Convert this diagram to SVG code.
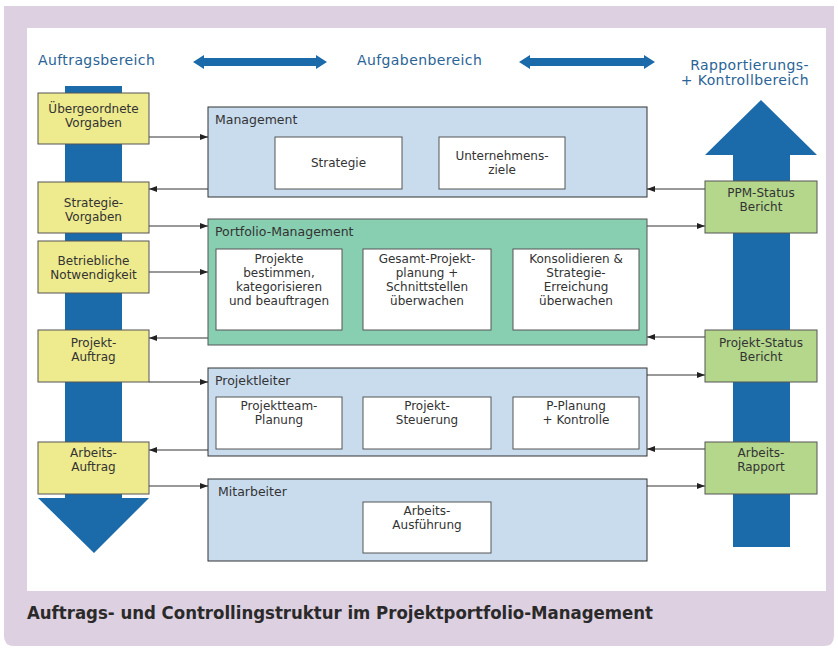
<svg xmlns="http://www.w3.org/2000/svg" width="838" height="648" viewBox="0 0 838 648">
<style>
.hdr{font-family:"DejaVu Sans",Verdana,sans-serif;font-size:14px;fill:#2a6496;letter-spacing:0.4px}
.t{font-family:"DejaVu Sans",Verdana,sans-serif;font-size:12px;fill:#333;text-anchor:middle}
.ttl{font-family:"DejaVu Sans",Verdana,sans-serif;font-size:12.5px;fill:#333}
.y{fill:#eeea8e;stroke:#555;stroke-width:1}
.g{fill:#b4d78c;stroke:#555;stroke-width:1}
.w{fill:#fff;stroke:#555;stroke-width:1}
.mb{fill:#c9dcee;stroke:#333;stroke-width:1}
.mp{fill:#88cfb2;stroke:#555;stroke-width:1}
.big{fill:#1b6aaa}
.c{stroke:#333;stroke-width:1;fill:none;marker-end:url(#ah)}
</style>
<defs>
<marker id="ah" viewBox="0 0 8 8" refX="8" refY="4" markerWidth="8" markerHeight="8" markerUnits="userSpaceOnUse" orient="auto">
<path d="M0,1 L8,4 L0,7 Z" fill="#222"/>
</marker>
</defs>
<path d="M4,6 H834 V636 Q834,646 824,646 H14 Q4,646 4,636 Z" fill="#ddd0e0"/>
<rect x="27" y="28" width="799" height="563" fill="#fff"/>
<text x="27" y="619" font-family="'DejaVu Sans Condensed','DejaVu Sans',sans-serif" font-weight="bold" font-size="17" fill="#2a2a2a" textLength="626" lengthAdjust="spacingAndGlyphs">Auftrags- und Controllingstruktur im Projektportfolio-Management</text>

<g id="headers">
<text class="hdr" x="38" y="65">Auftragsbereich</text>
<text class="hdr" x="357" y="65">Aufgabenbereich</text>
<text class="hdr" x="809" y="70" text-anchor="end">Rapportierungs-</text>
<text class="hdr" x="809" y="85" text-anchor="end">+ Kontrollbereich</text>
<path class="big" d="M193,62 L204,55 L204,58 L316,58 L316,55 L327,62 L316,69 L316,66 L204,66 L204,69 Z"/>
<path class="big" d="M519,62 L530,55 L530,58 L644,58 L644,55 L655,62 L644,69 L644,66 L530,66 L530,69 Z"/>
</g>

<g id="arrow-down"><path class="big" d="M65,86 H122 V498 H149 L94,553 L38,498 H65 Z"/></g>
<g id="arrow-up"><path class="big" d="M761,100 L817,155 H790 V547 H733 V155 H705 Z"/></g>

<g id="connectors">
<line class="c" x1="149" y1="137" x2="208" y2="137"/>
<line class="c" x1="208" y1="189" x2="149" y2="189"/>
<line class="c" x1="149" y1="226" x2="208" y2="226"/>
<line class="c" x1="149" y1="272" x2="208" y2="272"/>
<line class="c" x1="208" y1="338" x2="149" y2="338"/>
<line class="c" x1="149" y1="382" x2="208" y2="382"/>
<line class="c" x1="208" y1="450" x2="149" y2="450"/>
<line class="c" x1="149" y1="486" x2="208" y2="486"/>
<line class="c" x1="705" y1="189" x2="647" y2="189"/>
<line class="c" x1="647" y1="226" x2="705" y2="226"/>
<line class="c" x1="705" y1="337" x2="647" y2="337"/>
<line class="c" x1="647" y1="375" x2="705" y2="375"/>
<line class="c" x1="705" y1="449" x2="647" y2="449"/>
<line class="c" x1="647" y1="486" x2="705" y2="486"/>
</g>

<g id="uebergeordnete"><rect class="y" x="38" y="93" width="111" height="51"/><text class="t" x="93.5" y="113">Übergeordnete</text><text class="t" x="93.5" y="127">Vorgaben</text></g>
<g id="strategie-vorgaben"><rect class="y" x="38" y="182" width="111" height="51"/><text class="t" x="93.5" y="207">Strategie-</text><text class="t" x="93.5" y="221">Vorgaben</text></g>
<g id="betriebliche"><rect class="y" x="38" y="241" width="111" height="52"/><text class="t" x="93.5" y="265">Betriebliche</text><text class="t" x="93.5" y="279">Notwendigkeit</text></g>
<g id="projekt-auftrag"><rect class="y" x="38" y="330" width="111" height="52"/><text class="t" x="93.5" y="347">Projekt-</text><text class="t" x="93.5" y="361">Auftrag</text></g>
<g id="arbeits-auftrag"><rect class="y" x="38" y="442" width="111" height="52"/><text class="t" x="93.5" y="457">Arbeits-</text><text class="t" x="93.5" y="471">Auftrag</text></g>

<g id="ppm-status"><rect class="g" x="705" y="181" width="112" height="52"/><text class="t" x="761" y="197">PPM-Status</text><text class="t" x="761" y="211">Bericht</text></g>
<g id="projekt-status"><rect class="g" x="705" y="330" width="112" height="52"/><text class="t" x="761" y="347">Projekt-Status</text><text class="t" x="761" y="361">Bericht</text></g>
<g id="arbeits-rapport"><rect class="g" x="705" y="442" width="112" height="52"/><text class="t" x="761" y="457">Arbeits-</text><text class="t" x="761" y="471">Rapport</text></g>

<g id="management">
<rect class="mb" x="208" y="107" width="439" height="90"/>
<text class="ttl" x="215" y="124">Management</text>
<rect class="w" x="275" y="137" width="127" height="52"/><text class="t" x="338.5" y="167">Strategie</text>
<rect class="w" x="439" y="137" width="126" height="52"/><text class="t" x="502" y="160">Unternehmens-</text><text class="t" x="502" y="174">ziele</text>
</g>

<g id="portfolio">
<rect class="mp" x="208" y="219" width="439" height="126"/>
<text class="ttl" x="215" y="236">Portfolio-Management</text>
<rect class="w" x="216" y="249" width="126" height="81"/>
<text class="t" x="279" y="263">Projekte</text><text class="t" x="279" y="277">bestimmen,</text><text class="t" x="279" y="291">kategorisieren</text><text class="t" x="279" y="305">und beauftragen</text>
<rect class="w" x="363" y="249" width="128" height="81"/>
<text class="t" x="427" y="263">Gesamt-Projekt-</text><text class="t" x="427" y="277">planung  +</text><text class="t" x="427" y="291">Schnittstellen</text><text class="t" x="427" y="305">überwachen</text>
<rect class="w" x="513" y="249" width="126" height="81"/>
<text class="t" x="576" y="263">Konsolidieren &amp;</text><text class="t" x="576" y="277">Strategie-</text><text class="t" x="576" y="291">Erreichung</text><text class="t" x="576" y="305">überwachen</text>
</g>

<g id="projektleiter">
<rect class="mb" x="208" y="368" width="439" height="88"/>
<text class="ttl" x="215" y="385">Projektleiter</text>
<rect class="w" x="216" y="397" width="126" height="52"/><text class="t" x="279" y="410">Projektteam-</text><text class="t" x="279" y="424">Planung</text>
<rect class="w" x="363" y="397" width="128" height="52"/><text class="t" x="427" y="410">Projekt-</text><text class="t" x="427" y="424">Steuerung</text>
<rect class="w" x="513" y="397" width="126" height="52"/><text class="t" x="576" y="410">P-Planung</text><text class="t" x="576" y="424">+ Kontrolle</text>
</g>

<g id="mitarbeiter">
<rect class="mb" x="208" y="479" width="439" height="82"/>
<text class="ttl" x="218" y="496">Mitarbeiter</text>
<rect class="w" x="363" y="502" width="128" height="51"/><text class="t" x="427" y="515">Arbeits-</text><text class="t" x="427" y="529">Ausführung</text>
</g>
</svg>
